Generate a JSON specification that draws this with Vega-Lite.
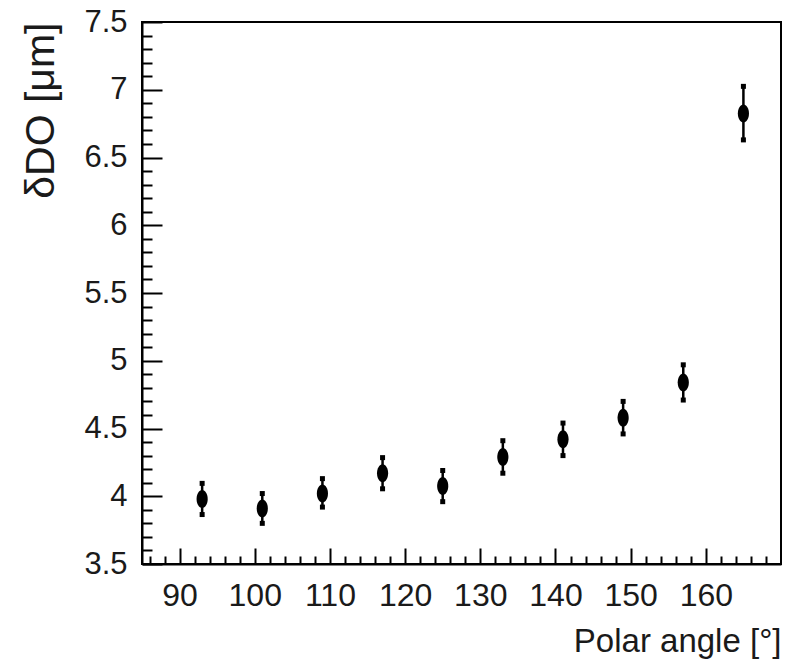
{
  "$schema": "https://vega.github.io/schema/vega-lite/v6.json",
  "width": 639,
  "height": 542,
  "autosize": {"type": "none"},
  "padding": {"left": 142, "top": 22, "right": 15, "bottom": 105},
  "background": "white",
  "config": {
    "view": {"stroke": "black", "strokeWidth": 2},
    "axis": {
      "domainColor": "black",
      "domainWidth": 2,
      "tickColor": "black",
      "tickWidth": 2,
      "grid": false,
      "labelColor": "#1a1a1a",
      "titleColor": "#1a1a1a",
      "labelFont": "Liberation Sans",
      "titleFont": "Liberation Sans",
      "titleFontWeight": "normal",
      "labelOverlap": false,
      "labelFlush": false
    }
  },
  "data": {
    "values": [
      {"angle": 93, "d0": 3.98, "lo": 3.865, "hi": 4.095},
      {"angle": 101, "d0": 3.91, "lo": 3.8, "hi": 4.02},
      {"angle": 109, "d0": 4.02, "lo": 3.92, "hi": 4.13},
      {"angle": 117, "d0": 4.17, "lo": 4.055, "hi": 4.285},
      {"angle": 125, "d0": 4.075, "lo": 3.96, "hi": 4.19},
      {"angle": 133, "d0": 4.29, "lo": 4.17, "hi": 4.41},
      {"angle": 141, "d0": 4.42, "lo": 4.3, "hi": 4.54},
      {"angle": 149, "d0": 4.58, "lo": 4.46, "hi": 4.7},
      {"angle": 157, "d0": 4.84, "lo": 4.71, "hi": 4.97},
      {"angle": 165, "d0": 6.825, "lo": 6.63, "hi": 7.025}
    ]
  },
  "encoding": {
    "x": {
      "field": "angle",
      "type": "quantitative",
      "scale": {"domain": [85, 170], "nice": false, "zero": false},
      "axis": {
        "title": "Polar angle [°]",
        "titleFontSize": 33,
        "titleAnchor": "end",
        "titleAlign": "right",
        "titleBaseline": "alphabetic",
        "titleX": 639,
        "titleY": 87,
        "labelFontSize": 32,
        "labelPadding": 32,
        "values": [86,88,90,92,94,96,98,100,102,104,106,108,110,112,114,116,118,120,122,124,126,128,130,132,134,136,138,140,142,144,146,148,150,152,154,156,158,160,162,164,166,168],
        "labelExpr": "datum.value % 10 === 0 ? datum.value : ''",
        "tickSize": {"condition": {"test": "datum.value % 10 === 0", "value": -16}, "value": -8}
      }
    },
    "y": {
      "field": "d0",
      "type": "quantitative",
      "scale": {"domain": [3.5, 7.5], "nice": false, "zero": false},
      "axis": {
        "title": "δDO [μm]",
        "titleFontSize": 41,
        "titleAngle": -90,
        "titleAnchor": "end",
        "titleAlign": "right",
        "titleBaseline": "alphabetic",
        "titleX": -89,
        "titleY": 0,
        "labelFontSize": 31,
        "labelPadding": 35,
        "values": [3.5,3.6,3.7,3.8,3.9,4,4.1,4.2,4.3,4.4,4.5,4.6,4.7,4.8,4.9,5,5.1,5.2,5.3,5.4,5.5,5.6,5.7,5.8,5.9,6,6.1,6.2,6.3,6.4,6.5,6.6,6.7,6.8,6.9,7,7.1,7.2,7.3,7.4,7.5],
        "labelExpr": "abs(datum.value*2-round(datum.value*2))<0.001 ? format(datum.value, '.1~f') : ''",
        "tickSize": {"condition": {"test": "abs(datum.value*2-round(datum.value*2))<0.001", "value": -20}, "value": -10}
      }
    }
  },
  "layer": [
    {
      "mark": {"type": "rule", "color": "black", "strokeWidth": 2.5},
      "encoding": {"y": {"field": "lo", "type": "quantitative"}, "y2": {"field": "hi"}}
    },
    {
      "mark": {"type": "point", "shape": "square", "filled": true, "color": "black", "opacity": 1, "size": 25},
      "encoding": {"y": {"field": "lo", "type": "quantitative"}}
    },
    {
      "mark": {"type": "point", "shape": "square", "filled": true, "color": "black", "opacity": 1, "size": 25},
      "encoding": {"y": {"field": "hi", "type": "quantitative"}}
    },
    {
      "mark": {"type": "point", "shape": "M -0.62 0 A 0.62 1 0 1 1 0.62 0 A 0.62 1 0 1 1 -0.62 0 Z", "filled": true, "color": "black", "opacity": 1, "size": 324},
      "encoding": {}
    }
  ]
}
